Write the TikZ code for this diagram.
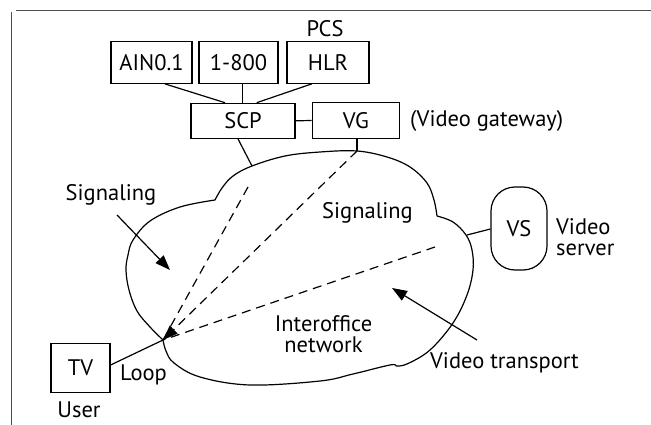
\documentclass[tikz,border=0pt]{standalone}
\usepackage{fontspec}
\setmainfont{PT Sans}
\usetikzlibrary{arrows.meta}
\begin{document}
\begin{tikzpicture}[x=1pt,y=-1pt,
  font=\fontsize{22.5}{21.5}\selectfont,
  box/.style={draw,line width=1.2pt,inner sep=0pt},
  lab/.style={inner sep=0pt},
  wire/.style={line width=1.2pt},
  dashline/.style={line width=1.2pt,dash pattern=on 9pt off 6pt},
  tip/.style={-{Triangle[length=15pt,width=11pt]}}]
\useasboundingbox (0,0) rectangle (651,425);
% frame
\draw[line width=0.7pt,black!70] (16,10) -- (651,10);
\draw[line width=0.7pt,black!70] (11,12) -- (11,425);
% top boxes
\node[box,minimum width=81pt,minimum height=41.6pt] (ain) at (151.5,62.5) {AIN0.1};
\node[box,minimum width=79pt,minimum height=41.6pt] (t800) at (238.5,62.5) {1-800};
\node[box,minimum width=82pt,minimum height=41.6pt] (hlr) at (328,62.5) {HLR};
\node[lab] (pcs) at (325,29) {PCS};
\node[box,minimum width=104pt,minimum height=35pt] (scp) at (243,120.8) {SCP};
\node[box,minimum width=87pt,minimum height=35.6pt] (vg) at (355.8,120.5) {VG};
\node[lab,anchor=west] (vgl) at (410,121) {(Video gateway)};
\draw[wire] (ain.south -| 165,0) -- (scp.north -| 225,0);
\draw[wire] (t800.south -| 242.3,0) -- (scp.north -| 242.3,0);
\draw[wire] (hlr.south -| 311.7,0) -- (scp.north -| 256.7,0);
\draw[wire] (scp.east) -- (vg.west);
% cloud
\coordinate (cscp) at (252,166);
\coordinate (cvg) at (357,151);
\coordinate (cvs) at (467,235);
\coordinate (cusp) at (163,340);
\draw[wire,line join=round]
  plot[smooth,tension=0.6] coordinates {(215,200) (222,188) (233,176) (252,166) (285,156) (320,152) (357,151) (387,157) (410,167) (427,183) (434,200) (437,216)}
  plot[smooth,tension=0.6] coordinates {(437,216) (453,222) (466,235) (472,250) (473,270) (467,295) (453,323) (430,350) (407,364) (396,366)}
  plot[smooth,tension=0.6] coordinates {(396,366) (390,365) (353,374) (320,381) (250,385) (200,377) (174,363) (166,351) (163,340)}
  plot[smooth,tension=0.6] coordinates {(163,340) (150,327) (137,311) (129,290) (126,270) (128,255) (133,240) (150,221) (180,207) (215,200)};
\draw[wire] (scp.south -| 238,0) -- (cscp);
\draw[wire] (vg.south -| 357,0) -- (cvg);
% VS
\node[box,rounded corners=24pt,minimum width=56pt,minimum height=83pt] (vs) at (519,228.5) {VS};
\node[lab,anchor=west,align=left] (vsl) at (556,237) {Video\\server};
\draw[wire] (vs.west |- 0,229) -- (cvs);
% TV
\node[box,minimum width=59pt,minimum height=49pt] (tv) at (80.5,367.8) {TV};
\node[lab] (user) at (79,410) {User};
\node[lab,anchor=west] (loop) at (120,375) {Loop};
\draw[wire] (tv.east |- 0,365) -- (cusp);
% dashed signalling/transport paths
\coordinate (d1) at (357,151);
\coordinate (d2) at (248,187);
\coordinate (d3) at (435,247);
\draw[dashline] (d2) -- (cusp);
\draw[dashline] (d3) -- (cusp);
\draw[dashline,tip] (d1) -- (cusp);
% labels
\node[lab] (sigl) at (111,195) {Signaling};
\node[lab] (sigm) at (367.5,213) {Signaling};
\node[lab,align=center] (inter) at (323.5,334) {Interoffice\\network};
\node[lab,anchor=west] (vt) at (430,363) {Video transport};
\coordinate (sa) at (170,270);
\coordinate (vta) at (392,288);
\coordinate (sas) at (117,215);
\coordinate (vts) at (477,340);
\draw[wire,tip] (sas) -- (sa);
\draw[wire,tip] (vts) -- (vta);
\end{tikzpicture}
\end{document}
